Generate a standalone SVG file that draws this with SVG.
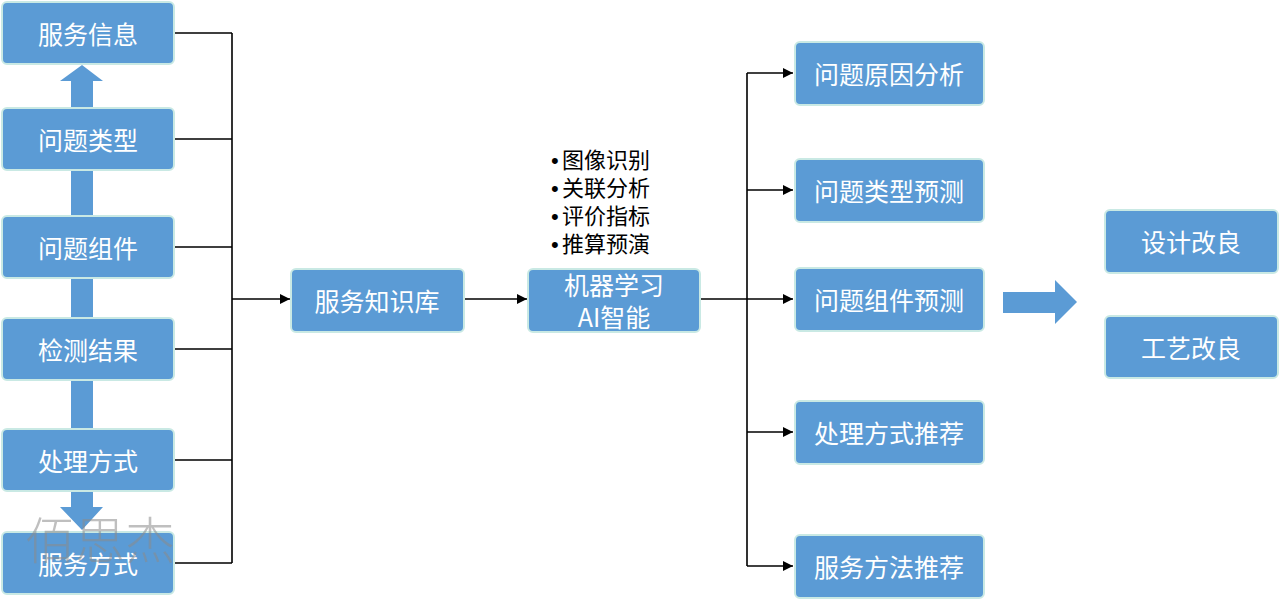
<svg xmlns="http://www.w3.org/2000/svg" width="1280" height="600" viewBox="0 0 1280 600">
<defs>
<style>
.box{fill:#5b9bd5;stroke:#c9e9e4;stroke-width:2}
.t{font-family:"Noto Sans CJK SC","Liberation Sans",sans-serif;font-size:25px;fill:#ffffff;text-anchor:middle;dominant-baseline:central}
.b{font-family:"Noto Sans CJK SC","Liberation Sans",sans-serif;font-size:22px;fill:#000000}
.bd{font-family:"Liberation Sans",sans-serif}
.ln{fill:none;stroke:#000000;stroke-width:1.6}
.big{fill:#5b9bd5}
</style>
<marker id="ah" viewBox="0 0 10 10" refX="10" refY="5" markerWidth="10" markerHeight="10" markerUnits="userSpaceOnUse" orient="auto">
<path d="M0,0 L10,5 L0,10 z" fill="#000"/>
</marker>
</defs>
<rect width="1280" height="600" fill="#ffffff"/>
<g id="vertical-arrow">
<path class="big" d="M82,65 L103,81 L93,81 L93,507 L103,507 L82,530 L60,507 L71,507 L71,81 L60,81 Z"/>
</g>
<g id="big-right-arrow">
<path class="big" d="M1003,292 L1055,292 L1055,280 L1077,302 L1055,324 L1055,313 L1003,313 Z"/>
</g>
<g id="connectors">
<path class="ln" d="M174,33 H232 M174,139 H232 M174,247 H232 M174,349 H232 M174,460 H232 M174,563 H232 M232,33 V563"/>
<path class="ln" d="M232,299 H290" marker-end="url(#ah)"/>
<path class="ln" d="M464,299 H527" marker-end="url(#ah)"/>
<path class="ln" d="M700,299 H747 M747,73 V566"/>
<path class="ln" d="M747,73 H793" marker-end="url(#ah)"/>
<path class="ln" d="M747,190 H793" marker-end="url(#ah)"/>
<path class="ln" d="M747,299 H793" marker-end="url(#ah)"/>
<path class="ln" d="M747,432 H793" marker-end="url(#ah)"/>
<path class="ln" d="M747,566 H793" marker-end="url(#ah)"/>
</g>
<g id="n-fuwuxinxi"><rect class="box" x="2" y="2" width="172" height="62" rx="5"/><text class="t" x="88" y="33">服务信息</text></g>
<g id="n-wentileixing"><rect class="box" x="2" y="108" width="172" height="62" rx="5"/><text class="t" x="88" y="139">问题类型</text></g>
<g id="n-wentizujian"><rect class="box" x="2" y="216" width="172" height="62" rx="5"/><text class="t" x="88" y="247">问题组件</text></g>
<g id="n-jiancejieguo"><rect class="box" x="2" y="318" width="172" height="62" rx="5"/><text class="t" x="88" y="349">检测结果</text></g>
<g id="n-chulifangshi"><rect class="box" x="2" y="429" width="172" height="62" rx="5"/><text class="t" x="88" y="460">处理方式</text></g>
<g id="n-fuwufangshi"><rect class="box" x="2" y="532" width="172" height="62" rx="5"/><text class="t" x="88" y="563">服务方式</text></g>
<g id="n-zhishiku"><rect class="box" x="291" y="269" width="173" height="63" rx="5"/><text class="t" x="377" y="300">服务知识库</text></g>
<g id="n-jiqixuexi"><rect class="box" x="528" y="269" width="172" height="63" rx="5"/><text class="t" x="614" y="284" font-size="24">机器学习</text><text class="t" x="614" y="316" font-size="24">AI智能</text></g>
<g id="bullets">
<text class="b" x="551" y="168"><tspan class="bd">•</tspan><tspan x="562">图像识别</tspan></text>
<text class="b" x="551" y="196"><tspan class="bd">•</tspan><tspan x="562">关联分析</tspan></text>
<text class="b" x="551" y="224"><tspan class="bd">•</tspan><tspan x="562">评价指标</tspan></text>
<text class="b" x="551" y="252"><tspan class="bd">•</tspan><tspan x="562">推算预演</tspan></text>
</g>
<g id="n-yuanyin"><rect class="box" x="795" y="42" width="189" height="63" rx="5"/><text class="t" x="889" y="73">问题原因分析</text></g>
<g id="n-leixingyuce"><rect class="box" x="795" y="159" width="189" height="63" rx="5"/><text class="t" x="889" y="190">问题类型预测</text></g>
<g id="n-zujianyuce"><rect class="box" x="795" y="268" width="189" height="63" rx="5"/><text class="t" x="889" y="299">问题组件预测</text></g>
<g id="n-chulituijian"><rect class="box" x="795" y="401" width="189" height="63" rx="5"/><text class="t" x="889" y="432">处理方式推荐</text></g>
<g id="n-fuwutuijian"><rect class="box" x="795" y="535" width="189" height="63" rx="5"/><text class="t" x="889" y="566">服务方法推荐</text></g>
<g id="n-shejigailiang"><rect class="box" x="1105" y="210" width="173" height="63" rx="5"/><text class="t" x="1191" y="241">设计改良</text></g>
<g id="n-gongyigailiang"><rect class="box" x="1105" y="316" width="173" height="62" rx="5"/><text class="t" x="1191" y="347">工艺改良</text></g>
<g id="watermark"><text x="100" y="537" font-family="Noto Sans CJK SC, sans-serif" font-size="50" font-weight="300" fill="#8a8a8a" fill-opacity="0.55" text-anchor="middle" dominant-baseline="central">佰思杰</text></g>
</svg>
